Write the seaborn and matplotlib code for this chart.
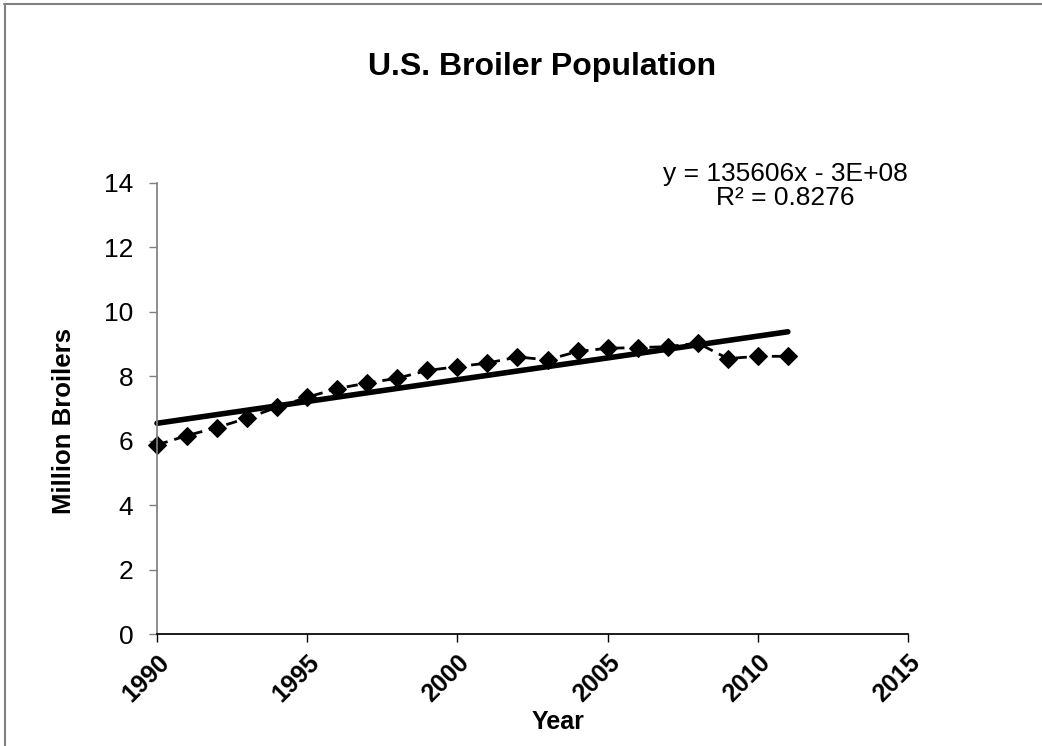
import numpy as np
import pandas as pd
import matplotlib
matplotlib.use("Agg")
import matplotlib.pyplot as plt
import seaborn as sns
from matplotlib.lines import Line2D

years = list(range(1990, 2012))
broilers = [5.87, 6.16, 6.41, 6.70, 7.04, 7.35, 7.62, 7.79, 7.94, 8.18, 8.30,
            8.41, 8.60, 8.51, 8.77, 8.87, 8.89, 8.92, 9.03, 8.55, 8.62, 8.62]
x_ticks = [1990, 1995, 2000, 2005, 2010, 2015]
y_ticks = [0, 2, 4, 6, 8, 10, 12, 14]
eq_text = "y = 135606x - 3E+08\nR² = 0.8276"

df = pd.DataFrame({"Year": years, "Broilers": broilers})
slope, intercept = np.polyfit(df["Year"], df["Broilers"], 1)
trend = pd.DataFrame({"Year": [years[0], years[-1]]})
trend["Fit"] = slope * trend["Year"] + intercept

sns.set_theme(style="white")
plt.rcParams["font.family"] = ["Liberation Sans", "DejaVu Sans"]
plt.rcParams.update({"text.color": "black", "axes.labelcolor": "black",
                     "xtick.color": "black", "ytick.color": "black"})

fig = plt.figure(figsize=(10.42, 7.46), dpi=100)
ax = fig.add_axes([157 / 1042, 1 - 634 / 746, 751 / 1042, 451 / 746])

sns.lineplot(data=df, x="Year", y="Broilers", ax=ax, color="black",
             linestyle=(0, (4, 2.5)), linewidth=2, marker="D", markersize=9.5,
             markeredgecolor="black", markerfacecolor="black", clip_on=False)
sns.lineplot(data=trend, x="Year", y="Fit", ax=ax, color="black",
             linewidth=4, clip_on=False)

ax.set_xlim(1990, 2015)
ax.set_ylim(0, 14)
ax.set_xticks(x_ticks)
ax.set_yticks(y_ticks)
ax.set_xticklabels([str(t) for t in x_ticks], rotation=45, ha="right",
                   rotation_mode="anchor", fontsize=18, fontweight="bold")
ax.set_yticklabels([str(t) for t in y_ticks], fontsize=19)
ax.tick_params(axis="both", direction="out", length=6, width=1, bottom=True, left=True)
ax.tick_params(axis="y", colors="#808080", labelcolor="black", pad=11)
ax.tick_params(axis="x", pad=6)

for s in ["top", "right"]:
    ax.spines[s].set_visible(False)
ax.spines["left"].set_color("#808080")
ax.spines["bottom"].set_color("black")

ax.set_xlabel("Year", fontsize=18, fontweight="bold")
ax.xaxis.set_label_coords((558 - 157) / 751, (634 - 710) / 451)
ax.set_ylabel("Million Broilers", fontsize=18.5, fontweight="bold")
ax.yaxis.set_label_coords((76 - 157) / 751, (634 - 421) / 451)

fig.text(542 / 1042, 1 - 67 / 746, "U.S. Broiler Population", ha="center",
         va="center", fontsize=23, fontweight="bold")
fig.text(785 / 1042, 1 - 186 / 746, eq_text, ha="center", va="center",
         fontsize=19, linespacing=1.05)

fig.add_artist(Line2D([4 / 1042, 1], [1 - 4 / 746, 1 - 4 / 746],
                      transform=fig.transFigure, color="#808080", linewidth=1.5))
fig.add_artist(Line2D([5 / 1042, 5 / 1042], [0, 1 - 4 / 746],
                      transform=fig.transFigure, color="#808080", linewidth=1.5))

fig.savefig("out.png", dpi=100)
